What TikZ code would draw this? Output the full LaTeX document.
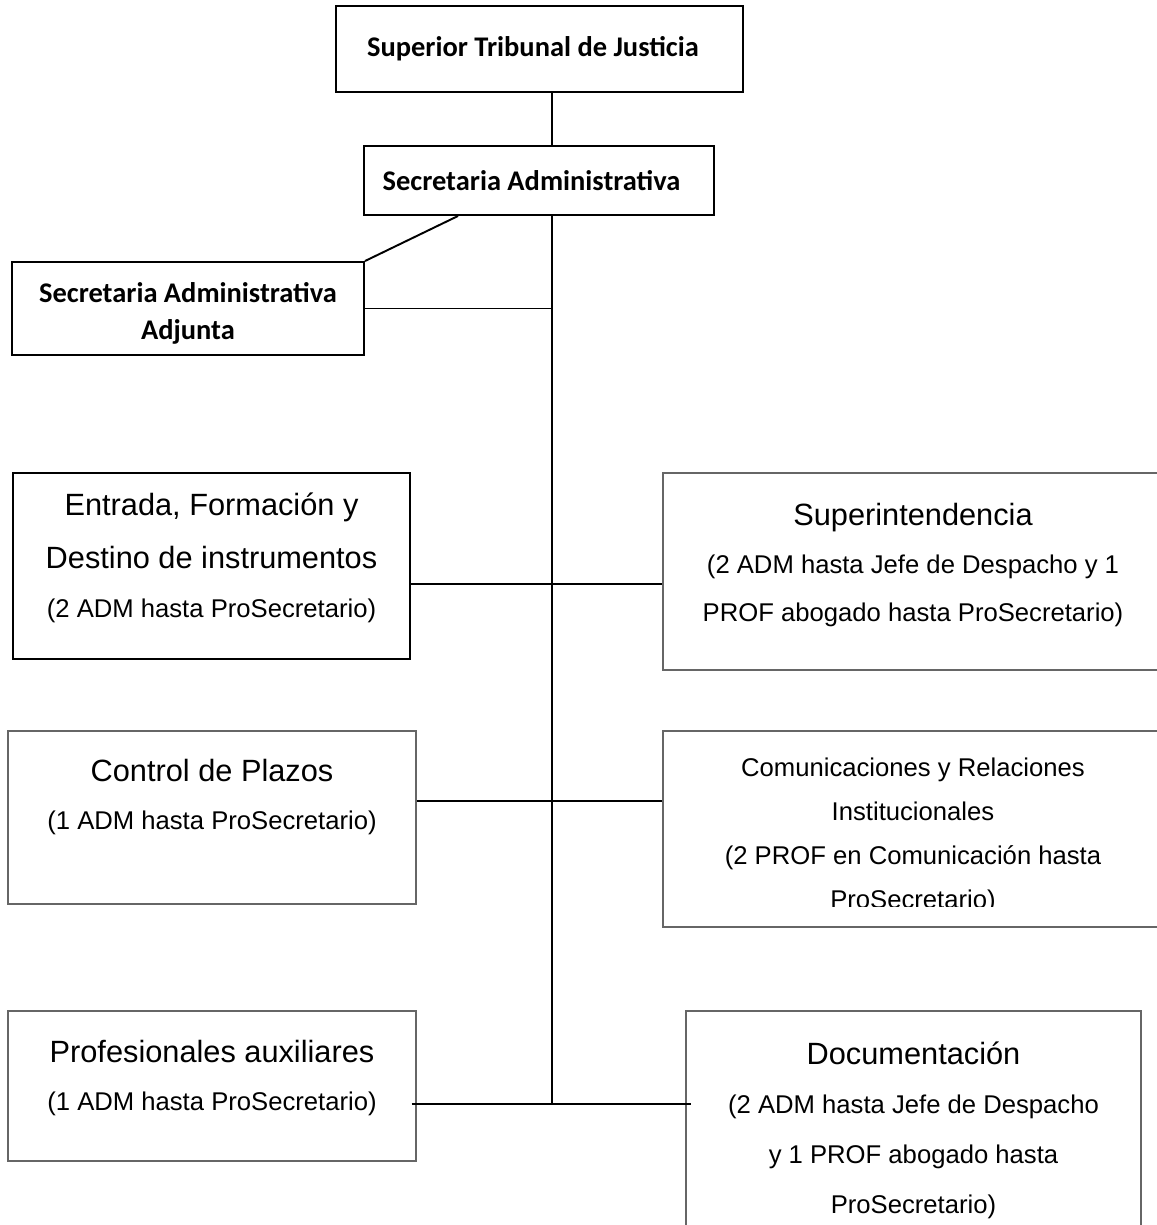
\documentclass[tikz,border=0pt]{standalone}
\usepackage{fontspec}
\setmainfont{Liberation Sans}
\newfontfamily\calibri{Carlito}
\usetikzlibrary{positioning, fit, calc}

\newcommand{\orgbig}{\fontsize{17.5}{28.5}\selectfont}
\newcommand{\orgsmall}{\fontsize{14.6}{27.5}\selectfont}
\newcommand{\orgtight}{\fontsize{14.6}{25}\selectfont}
\newcommand{\orgbold}{\calibri\bfseries\fontsize{16.2}{21.5}\selectfont}

\begin{document}
\begin{tikzpicture}[
  x=0.02cm, y=-0.02cm,
  headbox/.style={rectangle, draw=black, line width=1.1pt, inner sep=0pt},
  unitbox/.style={rectangle, draw=black!60, line width=0.6pt, inner sep=0pt},
  headtxt/.style={align=center, inner sep=0pt, font=\orgbold},
  txt/.style={align=center, inner sep=0pt, font=\orgsmall},
  link/.style={draw=black, line width=1.1pt},
]
\clip (0,0) rectangle (1157,1225);

% upper levels
\node[headbox, fit={(336,6) (743,92)}]    (stj)    {};
\node[headbox, fit={(364,146) (714,215)}] (secadm) {};
\node[headbox, fit={(12,262) (364,355)}]  (secadj) {};
\node[headtxt] (stj-t)    at ([xshift=-0.13cm]stj.center)    {Superior Tribunal de Justicia};
\node[headtxt] (secadm-t) at ([xshift=-0.15cm]secadm.center) {Secretaria Administrativa};
\node[headtxt] (secadj-t) at ([yshift=-0.1cm]secadj.center)  {Secretaria Administrativa\\Adjunta};

% units
\node[headbox, fit={(13,473) (410,659)}]    (entr)   {};
\node[unitbox, fit={(663,473) (1163,670)}]  (supint) {};
\node[unitbox, fit={(8,731) (416,904)}]     (ctrl)   {};
\node[unitbox, fit={(663,731) (1163,927)}]  (comrel) {};
\node[unitbox, fit={(8,1011) (416,1161)}]   (prof)   {};
\node[unitbox, fit={(686,1011) (1141,1240)}] (docu)  {};

\node[txt] (entr-t) at ([yshift=0.17cm]entr.center)
  {{\orgbig Entrada, Formación y}\\[3pt]{\orgbig Destino de instrumentos}\\(2 ADM hasta ProSecretario)};
\node[txt] (supint-t) at ([yshift=0.13cm]supint.center)
  {{\orgbig Superintendencia}\\(2 ADM hasta Jefe de Despacho y 1\\PROF abogado hasta ProSecretario)};
\node[txt] (ctrl-t) at ([yshift=0.41cm]ctrl.center)
  {{\orgbig Control de Plazos}\\(1 ADM hasta ProSecretario)};
\begin{scope}
  \clip (663,731) rectangle (1163,906);
  \node[txt, font=\orgtight] (comrel-t) at ([yshift=-0.14cm]comrel.center)
    {Comunicaciones y Relaciones\\Institucionales\\(2 PROF en Comunicación hasta\\ProSecretario)};
\end{scope}
\node[txt] (prof-t) at ([yshift=0.16cm]prof.center)
  {{\orgbig Profesionales auxiliares}\\(1 ADM hasta ProSecretario)};
\node[txt] (docu-t) at ([yshift=-0.1cm]docu.center)
  {{\orgbig Documentación}\\(2 ADM hasta Jefe de Despacho\\[1pt]y 1 PROF abogado hasta\\[1pt]ProSecretario)};

% connectors
\coordinate (spine) at (552,1104);
\coordinate (row1)  at (552,584);
\coordinate (row2)  at (552,801);
\draw[link] (stj.south -| spine) -- (secadm.north -| spine);
\draw[link] (secadm.south -| spine) -- (spine);
\draw[link] ($(secadm.south west)!0.27!(secadm.south east)$) -- (secadj.north east);
\draw[link] (secadj.east) -- (secadj.east -| spine);
\draw[link] (entr.east |- row1) -- (supint.west |- row1);
\draw[link] (ctrl.east |- row2) -- (comrel.west |- row2);
\draw[link] ([xshift=-0.1cm]prof.east |- spine) -- ([xshift=0.12cm]docu.west |- spine);
\end{tikzpicture}
\end{document}
